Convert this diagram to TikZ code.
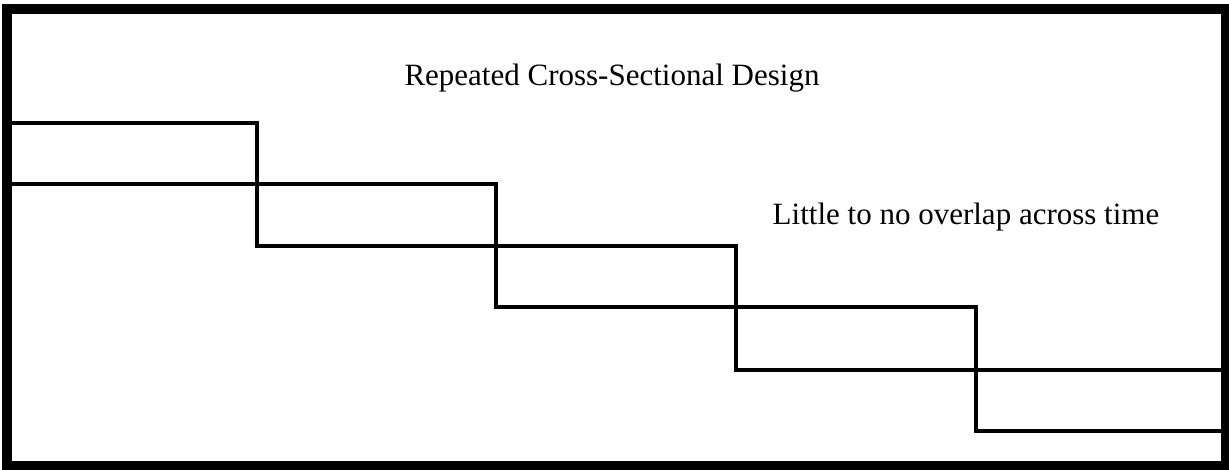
\documentclass[tikz,border=0pt]{standalone}
\usepackage{fontspec}
\setmainfont{Liberation Serif}
\begin{document}
\begin{tikzpicture}[x=1pt,y=-1pt,
  frame/.style={line width=10pt},
  stair/.style={line width=4pt, line join=miter},
  label/.style={font=\fontsize{31}{34}\selectfont, inner sep=0pt}]
\useasboundingbox (0,0) rectangle (1229,470);
\fill[white] (0,0) rectangle (1229,470);
\draw[frame] (6.5,9) rectangle (1225.5,466);
% upper staircase
\draw[stair] (6.5,123) -- (257,123) -- (257,246) -- (736,246) -- (736,370) -- (1225.5,370);
% lower staircase
\draw[stair] (6.5,184) -- (496,184) -- (496,307) -- (976,307) -- (976,431) -- (1225.5,431);
\node[label] (title) at (612,78) {Repeated Cross-Sectional Design};
\node[label] (note) at (966,217) {Little to no overlap across time};
\end{tikzpicture}
\end{document}
